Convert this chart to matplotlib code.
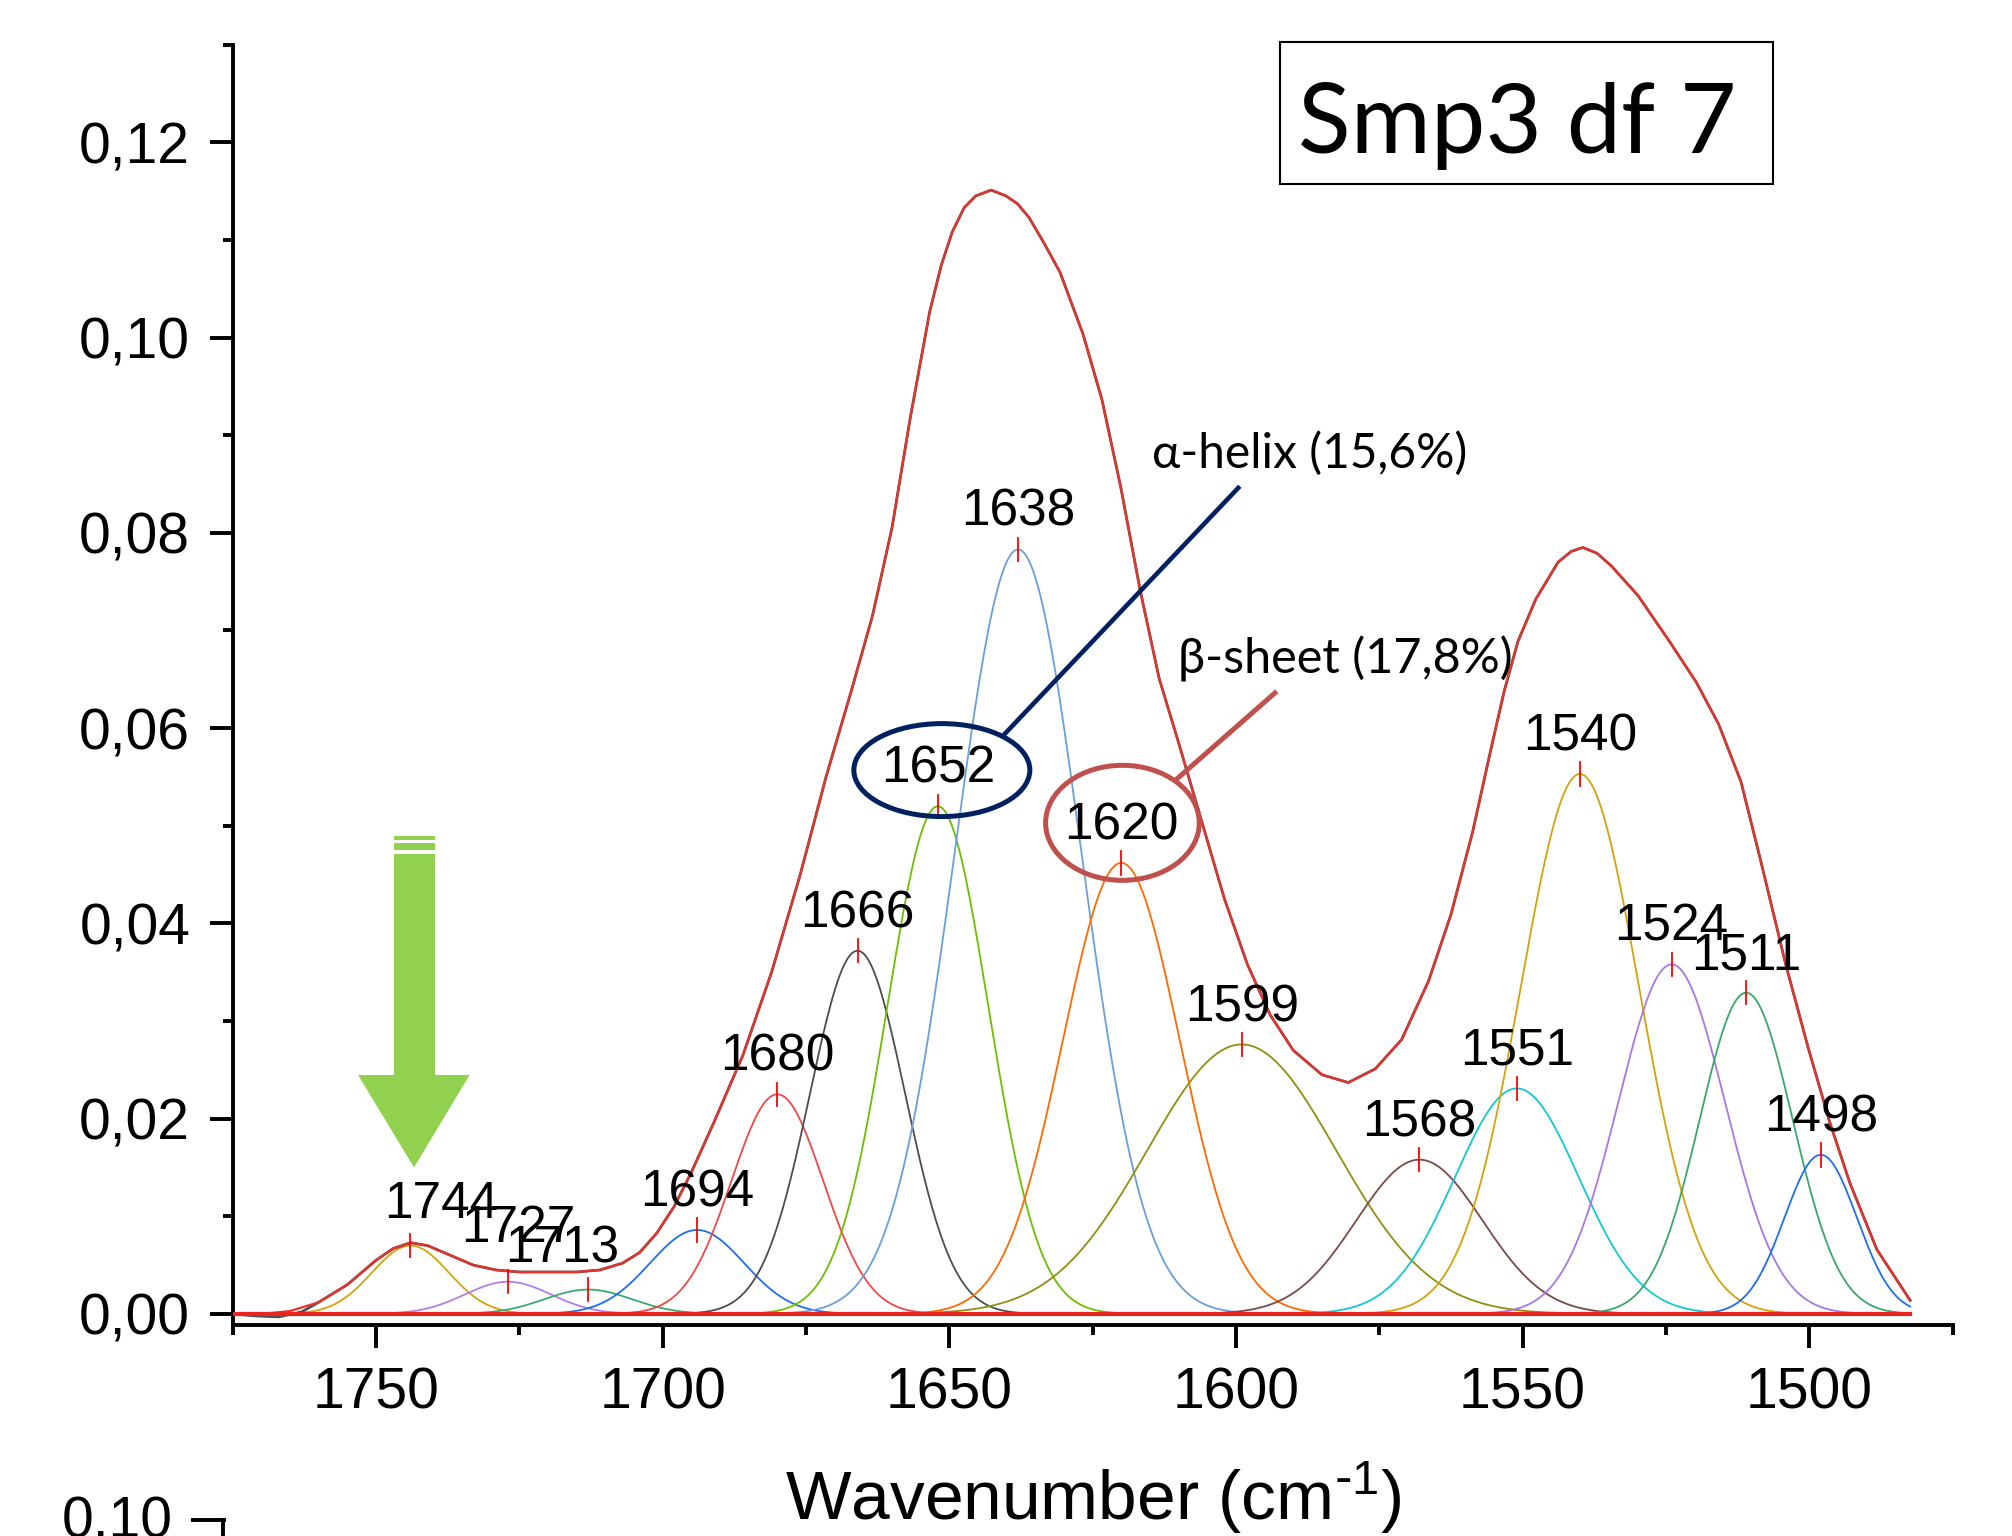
import numpy as np
import matplotlib.pyplot as plt
from matplotlib.patches import Ellipse, Rectangle, Polygon
from matplotlib.lines import Line2D
from matplotlib.ticker import MultipleLocator, FuncFormatter

plt.rcParams['font.family'] = ['Liberation Sans', 'DejaVu Sans']
plt.rcParams['mathtext.default'] = 'regular'

# fitted gaussian components: centre (cm-1), height, sigma
centers = [1744, 1727, 1713, 1694, 1680, 1666, 1652, 1638, 1620, 1599, 1568, 1551, 1540, 1524, 1511, 1498]
heights = [0.0070, 0.0033, 0.0025, 0.0086, 0.0225, 0.0372, 0.0520, 0.0783, 0.0462, 0.0276,
           0.0158, 0.0231, 0.0553, 0.0358, 0.0329, 0.0163]
sigmas = [6.7, 7.5, 7.6, 8.2, 8.0, 8.3, 8.8, 11.0, 10.2, 16.5, 11.0, 10.8, 10.3, 9.3, 8.1, 6.3]
colors = ['#D4A20A', '#B27FE0', '#3BAA6E', '#1F6FE8', '#F04848', '#4D4D4D', '#6CBF00', '#6A9FD8',
          '#FF6A00', '#8F8F10', '#7A4A4A', '#12C8D0', '#D4A20A', '#A877E0', '#3BA66A', '#1F6FE8']

# cumulative fit
env_x = [1775, 1770, 1765, 1760, 1755, 1750, 1747, 1744, 1741, 1737, 1733, 1729, 1725, 1720, 1715,
         1711, 1707, 1704, 1701, 1698, 1695, 1691, 1686, 1681, 1676, 1671.5, 1667, 1663.4, 1660,
         1656.8, 1653.4, 1651.4, 1649.5, 1647.4, 1645.4, 1642.7, 1640.1, 1638.1, 1636.1, 1633.5,
         1630.7, 1626.7, 1623.4, 1620.1, 1616.7, 1613.4, 1610, 1606, 1602, 1598, 1594, 1590, 1585,
         1580.4, 1575.7, 1571.1, 1566.4, 1562.5, 1558.7, 1555.5, 1553.2, 1550.8, 1547.7, 1543.8,
         1541.5, 1539.5, 1537, 1534.5, 1529.9, 1524.4, 1519.7, 1515.8, 1511.9, 1508.5, 1504.1,
         1500.2, 1496.4, 1492.9, 1488.2, 1482.4]
env_y = [0.0000, 0.0000, 0.0003, 0.0012, 0.0030, 0.0055, 0.0067, 0.0073, 0.0070, 0.0060, 0.0050,
         0.0045, 0.0043, 0.0043, 0.0043, 0.0045, 0.0052, 0.0063, 0.0083, 0.0110, 0.0145, 0.0197,
         0.0265, 0.0350, 0.0450, 0.0550, 0.0640, 0.0715, 0.0805, 0.0918, 0.1027, 0.1074, 0.1108,
         0.1133, 0.1145, 0.1151, 0.1145, 0.1137, 0.1123, 0.1097, 0.1067, 0.1004, 0.0937, 0.0847,
         0.0741, 0.0651, 0.0585, 0.0505, 0.0425, 0.0358, 0.0306, 0.0270, 0.0245, 0.0237, 0.0251,
         0.0281, 0.0341, 0.0409, 0.0494, 0.0579, 0.0638, 0.0689, 0.0732, 0.0770, 0.0781, 0.0785,
         0.0779, 0.0766, 0.0736, 0.0689, 0.0647, 0.0604, 0.0545, 0.0465, 0.0358, 0.0273, 0.0196,
         0.0134, 0.0066, 0.0014]
# measured spectrum differs only at the far left (slight dip under zero)
meas_head_x = [1775, 1771, 1767, 1763]
meas_head_y = [0.0000, -0.0002, -0.0003, 0.0002]

# label nudges (dx in cm-1, dy) for crowded labels
nudge = {1744: (-5.3, 0.0004), 1727: (-1.9, 0.0017), 1713: (4.6, 0.0004)}

fig = plt.figure(figsize=(20.12, 15.36), dpi=100)
ax = fig.add_axes([0.11565, 0.13737, 0.8548, 0.83359])

xs = np.linspace(1775, 1482.4, 800)
for c, h, s, col in zip(centers, heights, sigmas, colors):
    ax.plot(xs, h * np.exp(-(xs - c) ** 2 / (2 * s ** 2)), color=col, lw=1.3, zorder=2)

k = env_x.index(1760)
ax.plot(meas_head_x + env_x[k:], meas_head_y + env_y[k:], color='#505050', lw=2.0, zorder=3)
ax.plot(env_x, env_y, color='#E8332D', lw=1.6, zorder=4)
ax.plot([1775, 1482.4], [0, 0], color='#E8261E', lw=3.0, zorder=5)

# peak markers and labels
for c, h in zip(centers, heights):
    dx, dy = nudge.get(c, (0, 0))
    ax.plot([c, c], [h - 0.0012, h + 0.0012], color='red', lw=1.3, zorder=6)
    ax.text(c + dx, h + 0.0024 + dy, str(c), ha='center', va='baseline', fontsize=37, zorder=7)

ax.set_xlim(1775, 1475)
ax.set_ylim(-0.00113, 0.13)
for side in ['top', 'right']:
    ax.spines[side].set_visible(False)
for side in ['left', 'bottom']:
    ax.spines[side].set_linewidth(2.8)
ax.set_xticks([1750, 1700, 1650, 1600, 1550, 1500])
ax.xaxis.set_minor_locator(MultipleLocator(25))
ax.set_yticks(np.arange(0, 0.121, 0.02))
ax.yaxis.set_minor_locator(MultipleLocator(0.01))
ax.yaxis.set_major_formatter(FuncFormatter(lambda v, p: f'{v:.2f}'.replace('.', ',')))
ax.tick_params(which='major', direction='out', length=16.6, width=2.8, labelsize=41)
ax.tick_params(which='minor', direction='out', length=7.2, width=2.8)
ax.tick_params(axis='y', pad=14)
ax.tick_params(axis='x', pad=13)

fig.text(0.5431, 1 - 1520 / 1536, 'Wavenumber (cm$^{\\text{-}1}$)', ha='center', va='baseline',
         fontsize=50)

# green arrow pointing at the 1744 band
green = '#92D050'
ax.add_patch(Polygon([(1746.86, 0.04711), (1739.71, 0.04711), (1739.71, 0.02448), (1733.67, 0.02448),
                      (1743.37, 0.0150), (1753.14, 0.02448), (1746.86, 0.02448)],
                     closed=True, fc=green, ec='none', zorder=8))
ax.add_patch(Rectangle((1739.71, 0.04752), 7.15, 0.00068, fc=green, ec='none', zorder=8))
ax.add_patch(Rectangle((1739.71, 0.04854), 7.15, 0.00041, fc=green, ec='none', zorder=8))

# highlighted bands
callout = ['Lato', 'Noto Sans', 'DejaVu Sans']
ax.add_patch(Ellipse((1651.3, 0.0557), 30.7, 0.00952, fill=False, ec='#002060', lw=3.6, zorder=9))
ax.plot([1599.6, 1640.5], [0.0846, 0.0593], color='#002060', lw=3.3, zorder=9)
ax.text(1614.7, 0.0866, 'α-helix (15,6%)', ha='left', va='baseline', fontsize=34.5, family=callout)
ax.add_patch(Ellipse((1619.8, 0.0503), 26.8, 0.01178, fill=False, ec='#C0504D', lw=3.6, zorder=9))
ax.plot([1593.2, 1610.1], [0.0636, 0.0549], color='#C0504D', lw=3.6, zorder=9)
ax.text(1610.1, 0.0656, 'β-sheet (17,8%)', ha='left', va='baseline', fontsize=35, family=callout)

# sample title box
fig.add_artist(Rectangle((0.6362, 0.8802), 0.245, 0.0924, transform=fig.transFigure,
                         fill=False, ec='black', lw=1.5))
fig.text(0.7542, 0.9006, 'Smp3 df 7', ha='center', va='baseline', fontsize=70, family=callout)

# top of the next panel, cut by the page edge
fig.text(173 / 2012, -0.0007, '0,10', ha='right', va='baseline', fontsize=41)
fig.add_artist(Line2D([193 / 2012, 224 / 2012], [1 - 1520 / 1536] * 2, transform=fig.transFigure,
                      color='black', lw=2.8))
fig.add_artist(Line2D([223 / 2012] * 2, [1 - 1520 / 1536, 0], transform=fig.transFigure,
                      color='black', lw=2.8))

fig.savefig('out.png', dpi=100)
